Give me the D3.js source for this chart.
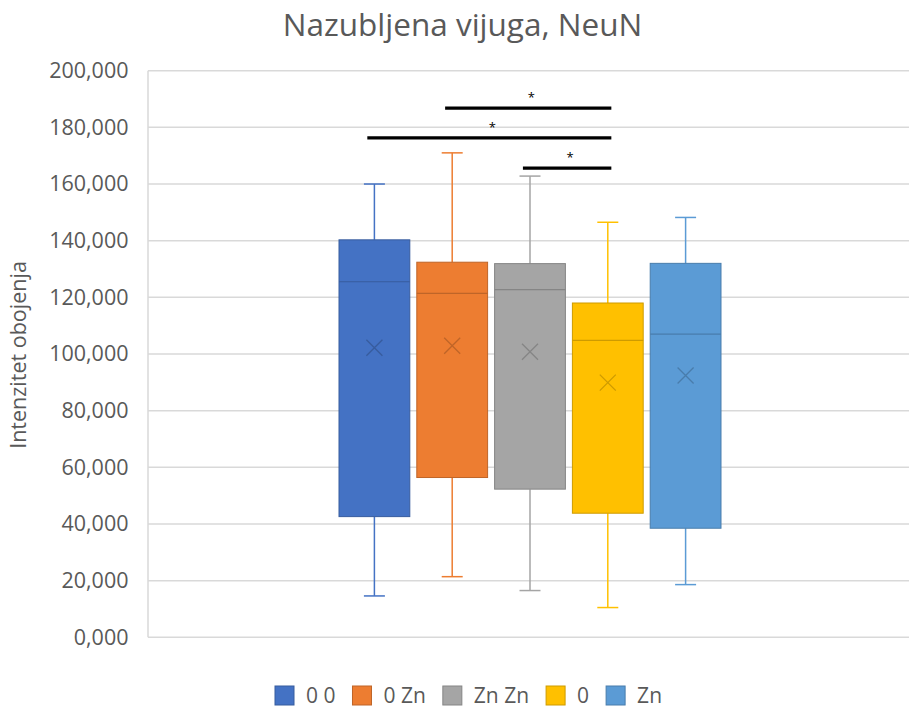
<!DOCTYPE html>
<html>
<head>
<meta charset="utf-8">
<script src="https://cdn.jsdelivr.net/npm/d3@7"></script>
<style>
  html, body { margin: 0; padding: 0; background: #fff; }
  svg { display: block; font-family: "Open Sans", sans-serif; }
</style>
</head>
<body>
<svg id="chart" width="909" height="708"></svg>
<script>
// ---- data ----
const categories = ["0 0", "0 Zn", "Zn Zn", "0", "Zn"];
const colors = ["#4472C4", "#ED7D31", "#A5A5A5", "#FFC000", "#5B9BD5"];
const whiskerLow = [14600, 21400, 16500, 10500, 18600];
const q1 = [42600, 56400, 52300, 43800, 38500];
const median = [125500, 121400, 122700, 104800, 107000];
const q3 = [140300, 132400, 131900, 118000, 132000];
const whiskerHigh = [160000, 171000, 162800, 146500, 148200];
const means = [102200, 102900, 100800, 89900, 92400];
const yTicks = [0, 20000, 40000, 60000, 80000, 100000, 120000, 140000, 160000, 180000, 200000];
const sigFrom = ["0 Zn", "0 0", "Zn Zn"];
const sigTo = ["0", "0", "0"];
const sigValue = [186800, 176300, 165600];
const sigLabel = ["*", "*", "*"];
const titleText = "Nazubljena vijuga, NeuN";
const yTitle = "Intenzitet obojenja";

// ---- layout ----
const svg = d3.select("#chart");
const plot = { left: 148, right: 912, top: 70.7, bottom: 637.3 };
const y = d3.scaleLinear().domain([0, 200000]).range([plot.bottom, plot.top]);
const x = d3.scaleBand().domain(categories).range([335.5, 724.5]).paddingInner(0.09).paddingOuter(0.045);
const bw = x.bandwidth();
const textColor = "#595959";

// gridlines
svg.append("g").selectAll("line").data(yTicks).join("line")
  .attr("x1", plot.left).attr("x2", plot.right)
  .attr("y1", d => y(d)).attr("y2", d => y(d))
  .attr("stroke", "#d9d9d9").attr("stroke-width", 1.5);
// left axis line
svg.append("line").attr("x1", plot.left).attr("x2", plot.left)
  .attr("y1", y(200000)).attr("y2", y(0))
  .attr("stroke", "#d9d9d9").attr("stroke-width", 1.5);

// y axis labels via d3 axis
const yAxis = d3.axisLeft(y).tickValues(yTicks).tickSize(0).tickPadding(0)
  .tickFormat(d => d === 0 ? "0,000" : d3.format(",")(d / 1000) + ",000");
const gy = svg.append("g").attr("transform", `translate(${plot.left - 19.5},0)`).call(yAxis);
gy.select(".domain").remove();
gy.selectAll("text").attr("fill", textColor).style("font-size", "21.5px")
  .style("font-family", "'Open Sans', sans-serif");

// title
svg.append("text").attr("x", 462.5).attr("y", 36).attr("text-anchor", "middle")
  .attr("fill", textColor).style("font-size", "31.5px").text(titleText);

// y title
svg.append("text").attr("transform", `translate(26,${355}) rotate(-90)`)
  .attr("text-anchor", "middle").attr("fill", textColor).style("font-size", "21.5px").text(yTitle);

// boxes
const g = svg.append("g");
categories.forEach((c, i) => {
  const cx = x(c) + bw / 2;
  const col = colors[i];
  const dark = d3.color(col).darker(0.6).formatHex();
  const gg = g.append("g");
  // whiskers
  gg.append("line").attr("x1", cx).attr("x2", cx).attr("y1", y(whiskerHigh[i])).attr("y2", y(q3[i]))
    .attr("stroke", col).attr("stroke-width", 1.5);
  gg.append("line").attr("x1", cx).attr("x2", cx).attr("y1", y(q1[i])).attr("y2", y(whiskerLow[i]))
    .attr("stroke", col).attr("stroke-width", 1.5);
  [whiskerHigh[i], whiskerLow[i]].forEach(v => {
    gg.append("line").attr("x1", cx - 10.5).attr("x2", cx + 10.5).attr("y1", y(v)).attr("y2", y(v))
      .attr("stroke", col).attr("stroke-width", 1.5);
  });
  // box
  gg.append("rect").attr("x", x(c)).attr("width", bw)
    .attr("y", y(q3[i])).attr("height", y(q1[i]) - y(q3[i]))
    .attr("fill", col).attr("stroke", dark).attr("stroke-width", 1);
  // median
  gg.append("line").attr("x1", x(c)).attr("x2", x(c) + bw)
    .attr("y1", y(median[i])).attr("y2", y(median[i]))
    .attr("stroke", dark).attr("stroke-width", 1.2);
  // mean X
  const my = y(means[i]), s = 8;
  gg.append("path").attr("d", `M${cx - s},${my - s}L${cx + s},${my + s}M${cx - s},${my + s}L${cx + s},${my - s}`)
    .attr("stroke", dark).attr("stroke-width", 1.3).attr("fill", "none");
});

// significance bars
const sg = svg.append("g");
sigFrom.forEach((f, i) => {
  const x1 = x(f) + bw * 0.4;
  const x2 = x(sigTo[i]) + bw * 0.55;
  const yy = y(sigValue[i]);
  sg.append("line").attr("x1", x1).attr("x2", x2).attr("y1", yy).attr("y2", yy)
    .attr("stroke", "#000").attr("stroke-width", 3.2);
  sg.append("text").attr("x", (x1 + x2) / 2 + 3).attr("y", yy - 6).attr("text-anchor", "middle")
    .style("font-size", "13px").attr("fill", "#000").text(sigLabel[i]);
});

// legend
const lg = svg.append("g");
let lx = 275;
categories.forEach((c, i) => {
  const item = lg.append("g").attr("transform", `translate(${lx},686)`);
  item.append("rect").attr("width", 19).attr("height", 19).attr("fill", colors[i])
    .attr("stroke", d3.color(colors[i]).darker(0.6).formatHex()).attr("stroke-width", 1);
  const t = item.append("text").attr("x", 31).attr("y", 17).attr("fill", textColor)
    .style("font-size", "21px").text(c);
  lx += 31 + t.node().getComputedTextLength() + 17;
});
</script>
</body>
</html>
